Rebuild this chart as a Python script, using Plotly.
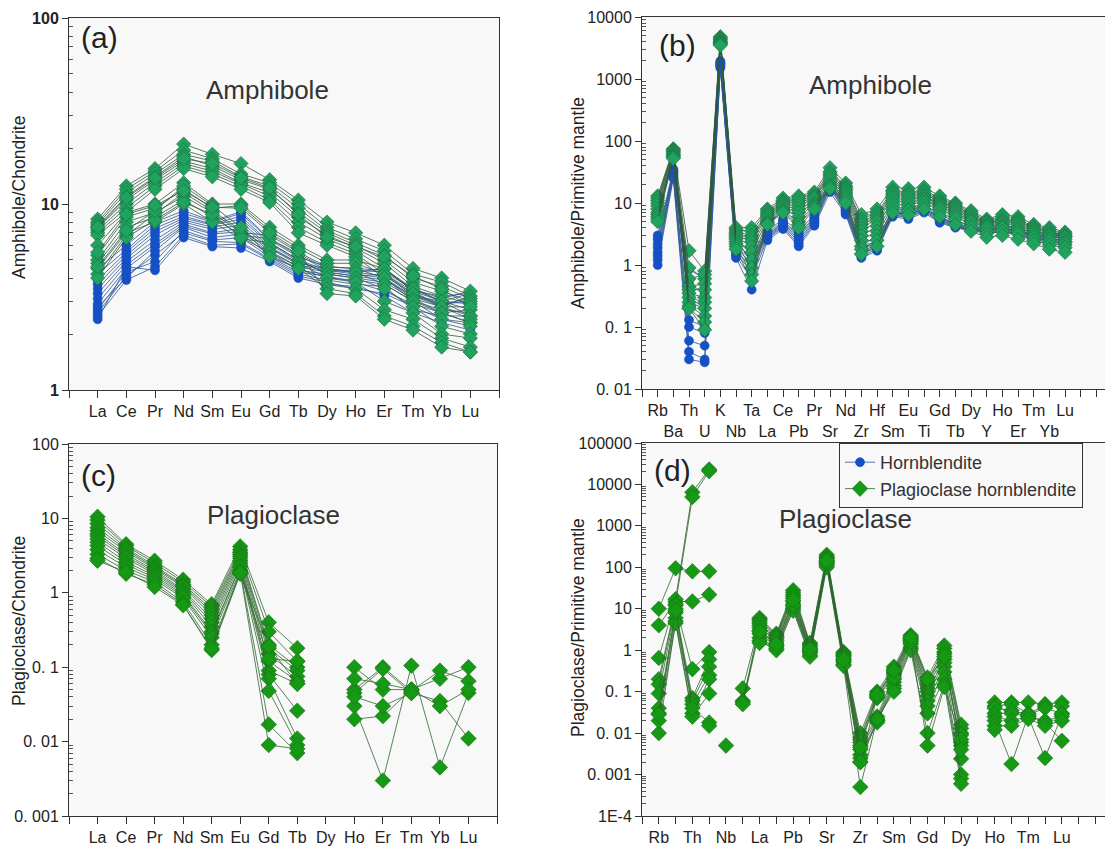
import plotly.graph_objects as go

# ---------------- categories ----------------
REE = ["La", "Ce", "Pr", "Nd", "Sm", "Eu", "Gd", "Tb", "Dy", "Ho", "Er", "Tm", "Yb", "Lu"]
SPIDER_AMP = ["Rb", "Ba", "Th", "U", "K", "Nb", "Ta", "La", "Ce", "Pb", "Pr", "Sr", "Nd", "Zr",
              "Hf", "Sm", "Eu", "Ti", "Gd", "Tb", "Dy", "Y", "Ho", "Er", "Tm", "Yb", "Lu"]
SPIDER_PL = ["Rb", "Ba", "Th", "U", "Nb", "Ta", "La", "Ce", "Pb", "Pr", "Sr", "Nd", "Zr",
             "Hf", "Sm", "Eu", "Gd", "Tb", "Dy", "Y", "Ho", "Er", "Tm", "Yb", "Lu"]
N = None

# ---------------- (a) amphibole / chondrite ----------------
a_hbl = [
    [2.4, 4.6, 4.4, 6.6, 5.9, 5.8, 4.9, 4.0, 3.7, 3.6, 3.2, 2.6, 2.3, 2.1],
    [2.5, 3.9, 4.6, 6.8, 6.0, 6.1, 5.0, 4.1, 3.8, 3.5, 3.3, 2.8, 2.4, 2.3],
    [2.6, 4.1, 5.3, 7.0, 6.3, 6.2, 5.1, 4.2, 3.9, 3.7, 3.6, 2.7, 2.5, 2.5],
    [2.7, 4.3, 4.9, 7.2, 6.4, 6.6, 5.2, 4.3, 4.1, 3.8, 3.4, 2.9, 2.6, 2.7],
    [2.8, 4.0, 5.6, 7.5, 6.6, 6.9, 5.3, 4.5, 4.0, 3.9, 3.7, 3.0, 2.7, 2.6],
    [2.9, 4.5, 5.9, 7.6, 6.9, 7.1, 5.5, 4.4, 4.2, 4.0, 3.8, 3.1, 2.8, 2.8],
    [3.1, 4.7, 6.1, 7.8, 7.0, 7.4, 5.6, 4.6, 4.3, 4.1, 3.9, 3.2, 2.9, 3.0],
    [3.3, 4.9, 6.4, 8.0, 7.3, 7.7, 5.8, 4.7, 4.4, 4.2, 4.0, 3.2, 3.0, 2.9],
    [3.5, 5.1, 6.8, 8.2, 7.5, 8.0, 5.9, 4.8, 4.5, 4.3, 4.1, 3.3, 2.9, 3.1],
    [3.7, 5.3, 7.1, 8.4, 7.7, 8.3, 6.1, 4.9, 4.3, 4.1, 4.2, 3.4, 2.8, 3.2],
    [3.9, 5.5, 7.4, 8.6, 7.8, 8.6, 6.2, 5.0, 4.4, 4.4, 4.3, 3.5, 3.0, 3.3],
    [4.2, 5.7, 7.7, 8.9, 8.0, 8.9, 6.4, 5.2, 4.6, 4.5, 4.4, 3.5, 3.1, 3.4],
    [4.5, 6.0, 8.0, 9.2, 8.1, 9.1, 6.5, 5.4, 4.5, 4.3, 4.5, 3.4, 3.2, 3.3],
]
a_plhbl = [
    [8.3, 12.5, 15.5, 21.0, 18.5, 16.5, 13.5, 10.5, 8.0, 7.0, 6.0, 4.5, 4.0, 3.4],
    [8.0, 12.0, 15.0, 19.5, 17.5, 14.5, 13.0, 10.0, 7.5, 6.5, 5.6, 4.2, 3.8, 3.2],
    [7.8, 11.5, 14.5, 18.5, 17.0, 14.0, 12.5, 9.5, 7.2, 6.2, 5.3, 4.0, 3.6, 3.1],
    [7.6, 11.0, 14.0, 18.0, 16.0, 13.5, 12.0, 9.0, 7.0, 6.0, 5.0, 3.8, 3.4, 3.0],
    [7.4, 10.5, 13.5, 17.0, 15.5, 13.0, 11.5, 8.5, 6.8, 5.8, 4.8, 3.6, 3.2, 2.9],
    [7.2, 10.0, 13.0, 16.5, 15.0, 12.8, 11.0, 8.0, 6.5, 5.6, 4.5, 3.4, 3.0, 2.7],
    [7.0, 9.5, 12.5, 16.0, 14.5, 12.5, 10.5, 7.5, 6.2, 5.4, 4.2, 3.2, 2.8, 2.5],
    [6.8, 9.0, 12.0, 15.5, 14.0, 12.0, 10.2, 7.0, 6.0, 5.2, 4.0, 3.0, 2.6, 2.3],
    [7.5, 10.8, 13.8, 17.5, 16.5, 13.8, 12.2, 8.8, 6.6, 5.9, 5.2, 4.1, 3.5, 2.8],
    [6.0, 9.0, 10.0, 13.0, 10.0, 10.0, 7.5, 6.0, 5.0, 5.0, 4.5, 3.5, 3.0, 2.5],
    [5.3, 8.5, 9.5, 12.0, 9.5, 9.8, 7.2, 5.8, 4.8, 4.8, 4.2, 3.3, 2.8, 2.4],
    [5.0, 8.0, 9.0, 11.0, 9.0, 7.0, 6.8, 5.5, 4.6, 4.5, 4.0, 3.1, 2.6, 2.3],
    [4.8, 7.5, 8.5, 10.5, 8.5, 6.8, 6.5, 5.3, 4.4, 4.3, 3.7, 3.0, 2.4, 2.2],
    [4.5, 7.0, 8.0, 10.0, 8.0, 6.5, 6.2, 5.0, 4.2, 4.0, 3.5, 2.8, 2.2, 2.0],
    [4.2, 6.8, 8.8, 11.5, 9.2, 7.2, 5.8, 4.8, 4.0, 3.8, 3.0, 2.6, 2.0, 1.9],
    [4.0, 6.6, 8.2, 10.2, 8.8, 6.6, 5.5, 4.6, 3.7, 3.5, 2.7, 2.4, 1.9, 1.7],
    [4.6, 7.2, 9.2, 12.5, 9.8, 7.5, 5.2, 4.5, 3.5, 3.3, 2.5, 2.2, 1.8, 1.6],
    [5.5, 8.8, 9.8, 11.8, 9.6, 9.5, 7.0, 5.6, 3.3, 3.2, 2.4, 2.1, 1.7, 1.6],
]

# ---------------- (b) amphibole / primitive mantle ----------------
b_hbl = [
    [1.0, 25, 0.03, 0.027, 1500, 1.3, 0.4, 2.5, 3.8, 2.0, 4.3, 15, 6.5, 1.3, 1.7, 6.0, 5.5, 7.0, 4.8, 4.0, 3.5, 3.3, 3.4, 3.0, 2.5, 2.2, 2.1],
    [1.2, 27, 0.04, 0.03, 1600, 1.4, 0.6, 2.7, 4.0, 2.2, 4.6, 17, 7.0, 1.4, 1.8, 6.3, 5.8, 7.4, 5.0, 4.1, 3.6, 3.4, 3.5, 3.1, 2.6, 2.3, 2.3],
    [1.4, 28, 0.06, 0.05, 1650, 1.5, 0.8, 2.8, 4.2, 2.4, 4.8, 18, 7.3, 1.5, 1.9, 6.5, 6.0, 7.6, 5.2, 4.2, 3.7, 3.5, 3.6, 3.2, 2.7, 2.4, 2.5],
    [1.6, 30, 0.10, 0.08, 1700, 1.6, 1.0, 2.9, 4.4, 2.6, 5.0, 19, 7.6, 1.6, 2.0, 6.8, 6.3, 7.8, 5.4, 4.3, 3.8, 3.6, 3.7, 3.3, 2.8, 2.5, 2.7],
    [1.9, 31, 0.13, 0.10, 1750, 1.8, 1.1, 3.0, 4.6, 2.8, 5.3, 20, 7.9, 1.7, 2.1, 7.0, 6.6, 8.0, 5.6, 4.4, 3.9, 3.7, 3.8, 3.4, 2.9, 2.6, 2.9],
    [2.2, 32, 0.30, 0.20, 1800, 2.0, 1.2, 3.1, 4.8, 3.0, 5.6, 21, 8.2, 1.9, 2.2, 7.2, 6.9, 8.3, 5.8, 4.5, 4.0, 3.7, 3.9, 3.5, 3.0, 2.7, 3.0],
    [2.6, 33, 0.50, 0.35, 1850, 2.2, 1.3, 3.3, 5.0, 3.2, 5.9, 22, 8.5, 2.1, 2.3, 7.5, 7.2, 8.6, 6.0, 4.6, 4.1, 3.8, 4.0, 3.6, 3.1, 2.8, 3.2],
    [3.0, 35, 0.85, 0.60, 1950, 2.5, 1.5, 3.5, 5.5, 3.5, 6.5, 25, 9.0, 2.5, 2.5, 8.0, 8.0, 9.0, 6.5, 5.0, 4.5, 4.0, 4.2, 4.0, 3.3, 3.0, 3.4],
]
b_plhbl = [
    [13, 75, 1.7, 0.8, 4800, 4.0, 4.0, 8.0, 12.0, 13.0, 15.0, 37, 21, 6.5, 8.0, 18, 17, 18, 13, 10, 7.5, 5.5, 6.5, 6.0, 4.5, 4.0, 3.4],
    [12, 72, 0.9, 0.6, 4600, 3.7, 3.5, 7.5, 11.0, 12.0, 14.0, 32, 19, 5.5, 7.0, 16, 15, 16, 12, 9.5, 7.0, 5.2, 6.0, 5.5, 4.2, 3.7, 3.2],
    [11, 70, 0.6, 0.7, 4400, 3.4, 3.0, 7.0, 10.5, 11.0, 13.0, 30, 18, 5.0, 6.5, 15, 14, 15, 11, 9.0, 6.5, 5.0, 5.5, 5.2, 4.0, 3.5, 3.0],
    [10, 68, 0.45, 0.5, 4300, 3.2, 2.7, 6.6, 10.0, 10.0, 12.5, 28, 17, 4.5, 6.0, 14, 13, 14, 10.5, 8.5, 6.2, 4.8, 5.2, 5.0, 3.8, 3.3, 2.9],
    [9, 65, 0.4, 0.4, 4100, 3.0, 2.4, 6.2, 9.5, 9.0, 12.0, 26, 16, 4.0, 5.5, 13, 12, 13, 10, 8.0, 5.8, 4.6, 5.0, 4.7, 3.6, 3.1, 2.8],
    [8, 62, 0.35, 0.3, 4000, 2.8, 2.0, 5.8, 9.0, 8.0, 11.0, 24, 15, 3.5, 5.0, 12, 11, 12.5, 9.5, 7.5, 5.5, 4.4, 4.7, 4.4, 3.4, 3.0, 2.6],
    [7, 60, 0.3, 0.25, 3900, 2.6, 1.6, 5.4, 8.5, 7.0, 10.0, 22, 14, 3.0, 4.2, 11, 10, 11.5, 9.0, 7.0, 5.2, 4.2, 4.4, 4.0, 3.2, 2.8, 2.4],
    [6.5, 58, 0.25, 0.2, 3800, 2.4, 1.2, 5.0, 8.0, 6.0, 9.5, 20, 13, 2.5, 3.5, 10, 9.0, 11, 8.5, 6.5, 5.0, 4.0, 4.2, 3.8, 3.0, 2.6, 2.3],
    [6.0, 56, 0.22, 0.15, 3700, 2.2, 0.9, 4.8, 7.5, 5.0, 9.0, 19, 12, 2.0, 3.0, 9.0, 8.0, 10, 8.0, 6.0, 4.5, 3.6, 4.0, 3.5, 2.8, 2.4, 2.1],
    [5.5, 54, 0.2, 0.12, 3600, 2.0, 0.7, 4.6, 7.2, 4.5, 8.5, 18, 11, 1.8, 2.5, 8.0, 7.5, 9.0, 7.0, 5.5, 4.0, 3.2, 3.5, 3.2, 2.5, 2.1, 1.9],
    [5.0, 52, 0.2, 0.09, 3500, 1.8, 0.55, 4.5, 7.0, 4.0, 8.0, 17, 10, 1.5, 2.0, 7.0, 6.5, 8.0, 6.0, 4.5, 3.5, 2.8, 3.0, 2.6, 2.2, 1.8, 1.6],
]

# ---------------- (c) plagioclase / chondrite ----------------
c_plhbl = [
    [10.5, 4.5, 2.7, 1.5, 0.70, 4.2, 0.40, 0.18, N, 0.10, 0.05, 0.05, 0.07, 0.10],
    [9.5, 4.3, 2.5, 1.4, 0.65, 3.8, 0.30, 0.12, N, 0.05, 0.10, 0.048, 0.09, 0.065],
    [8.5, 4.0, 2.3, 1.3, 0.60, 3.5, 0.20, 0.10, N, 0.045, 0.095, 0.045, 0.035, 0.011],
    [7.5, 3.8, 2.2, 1.25, 0.55, 3.3, 0.18, 0.09, N, 0.03, 0.003, 0.105, 0.0045, 0.045],
    [6.8, 3.6, 2.1, 1.2, 0.50, 3.1, 0.15, 0.075, N, 0.02, 0.022, 0.05, 0.03, 0.05],
    [6.2, 3.3, 2.0, 1.1, 0.45, 2.9, 0.12, 0.065, N, 0.07, 0.06, 0.05, N, N],
    [5.8, 3.1, 1.9, 1.05, 0.40, 2.7, 0.09, 0.06, N, 0.04, 0.03, 0.045, N, N],
    [5.3, 2.9, 1.8, 1.0, 0.35, 2.5, 0.08, 0.026, N, N, N, N, N, N],
    [4.8, 2.6, 1.7, 0.95, 0.30, 2.3, 0.07, 0.011, N, N, N, N, N, N],
    [4.3, 2.4, 1.6, 0.90, 0.28, 2.2, 0.048, 0.009, N, N, N, N, N, N],
    [3.8, 2.2, 1.5, 0.85, 0.25, 2.0, 0.017, 0.007, N, N, N, N, N, N],
    [3.3, 2.0, 1.4, 0.75, 0.20, 1.9, 0.009, 0.008, N, N, N, N, N, N],
    [2.9, 1.8, 1.3, 0.70, 0.17, 1.8, 0.13, 0.12, N, N, N, N, N, N],
    [2.7, 1.9, 1.2, 0.68, 0.18, 1.85, 0.19, 0.06, N, N, N, N, N, N],
]

# ---------------- (d) plagioclase / primitive mantle ----------------
d_plhbl = [
    [10, 95, 80, 80, N, N, 6.0, 2.5, 28, 1.5, 200, 0.90, 0.010, 0.10, 0.40, 2.3, 0.22, 1.3, 0.016, N, 0.055, 0.055, 0.055, 0.05, 0.055],
    [4.0, 15, 15, 22, N, N, 5.5, 2.3, 25, 1.4, 180, 0.85, 0.008, 0.09, 0.35, 2.1, 0.18, 1.1, 0.013, N, 0.045, 0.05, 0.03, 0.045, 0.045],
    [0.65, 17, 6500, 23000, N, N, 5.0, 2.2, 22, 1.3, 170, 0.80, 0.007, 0.08, 0.30, 1.9, 0.15, 0.9, 0.010, N, 0.04, 0.035, 0.028, 0.04, 0.03],
    [0.2, 13, 5000, 21000, N, 0.12, 4.5, 2.0, 20, 1.2, 160, 0.75, 0.006, 0.07, 0.28, 1.8, 0.12, 0.8, 0.009, N, 0.03, 0.03, 0.025, 0.02, 0.025],
    [0.15, 12, 0.35, 0.9, N, 0.06, 4.0, 1.9, 18, 1.1, 150, 0.70, 0.005, 0.025, 0.25, 1.7, 0.10, 0.6, 0.006, N, 0.025, 0.02, 0.025, 0.0025, 0.028],
    [0.09, 10, 0.07, 0.6, N, 0.055, 3.5, 1.7, 15, 1.0, 140, 0.60, 0.004, 0.022, 0.20, 1.5, 0.08, 0.5, 0.005, N, 0.02, 0.0018, 0.027, 0.018, 0.0065],
    [0.04, 8, 0.06, 0.4, N, 0.05, 3.0, 1.5, 13, 0.95, 130, 0.55, 0.003, 0.02, 0.17, 1.4, 0.06, 0.4, 0.0024, N, 0.015, 0.015, 0.022, 0.015, 0.02],
    [0.03, 6, 0.05, 0.25, N, N, 2.5, 1.3, 11, 0.85, 120, 0.50, 0.0025, 0.018, 0.14, 1.2, 0.045, 0.3, 0.001, N, 0.012, N, N, N, N],
    [0.01, 5, 0.03, 0.2, N, N, 2.0, 1.1, 10, 0.75, 110, 0.45, 0.002, 0.02, 0.12, 1.1, 0.03, 0.2, 0.0008, N, N, N, N, N, N],
    [0.02, 4.5, 0.025, 0.09, N, N, 1.7, 1.0, 9, 0.70, 100, 0.42, 0.0005, 0.022, 0.10, 1.0, 0.010, 0.15, 0.0006, N, N, N, N, N, N],
    [0.028, 9, 0.04, 0.018, N, N, 1.5, 1.2, 12, 0.90, 125, 0.65, 0.002, 0.075, 0.22, 1.6, 0.005, 0.13, 0.007, N, N, N, N, N, N],
    [N, N, N, 0.015, N, N, 2.8, 1.4, 16, 1.05, 145, 0.58, 0.0045, 0.085, 0.32, 2.0, 0.2, 0.7, 0.004, N, N, N, N, N, N],
    [N, N, N, N, 0.005, N, N, N, N, N, N, N, N, N, N, N, N, N, N, N, N, N, N, N, N],
]

# ---------------- styling ----------------
FONT = "Arial, Liberation Sans, Helvetica, sans-serif"
BLUE_M, BLUE_L = "#1550c4", "#2c5796"
GA_M, GA_L, GA_E = "#1fa35f", "#30593f", "#1c6a3e"
GP_M, GP_L, GP_E = "#169a16", "#2f672f", "#137013"

fig = go.Figure()


def add_group(data, xa, ya, mcol, lcol, ecol, symbol, size, name=None, legend_first=False):
    for i, vals in enumerate(data):
        fig.add_trace(go.Scatter(
            x=list(range(1, len(vals) + 1)), y=vals, mode="lines+markers",
            xaxis=xa, yaxis=ya, connectgaps=False,
            line=dict(color=lcol, width=0.8),
            marker=dict(symbol=symbol, size=size, color=mcol, line=dict(color=ecol, width=0.6)),
            name=name or "", showlegend=(legend_first and i == 0), hoverinfo="skip"))


add_group(a_hbl, "x", "y", BLUE_M, BLUE_L, BLUE_M, "circle", 9, "Hornblendite", True)
add_group(a_plhbl, "x", "y", GA_M, GA_L, GA_E, "diamond", 11)
add_group(b_hbl, "x2", "y2", BLUE_M, BLUE_L, BLUE_M, "circle", 9)
add_group(b_plhbl, "x2", "y2", GA_M, GA_L, GA_E, "diamond", 11)
add_group(c_plhbl, "x3", "y3", GP_M, GP_L, GP_E, "diamond", 12)
add_group(d_plhbl, "x4", "y4", GP_M, GP_L, GP_E, "diamond", 12, "Plagioclase hornblendite", True)

W, H = 1105, 848


def px_x(v):
    return v / W


def px_y(v):
    return (H - v) / H


def minor_vals(lo, hi):
    out = []
    for e in range(lo, hi):
        for m in range(2, 10):
            out.append(m * 10.0 ** e)
    return out


def xaxis(domain, rng, labels, two_rows, size, anchor):
    n_end = int(rng[1])
    vals = list(range(0, n_end + 1))
    text = []
    for v in vals:
        if 1 <= v <= len(labels):
            lab = labels[v - 1]
            text.append(("<br>" + lab) if (two_rows and v % 2 == 0) else lab)
        else:
            text.append("")
    return dict(domain=domain, range=rng, anchor=anchor, showgrid=False, zeroline=False,
                tickmode="array", tickvals=vals, ticktext=text, ticks="outside", ticklen=7,
                tickwidth=1, tickcolor="#333", showline=True, linecolor="#333", linewidth=1,
                mirror=True, tickangle=0, automargin=False,
                tickfont=dict(family=FONT, size=size, color="#222"))


def yaxis(domain, lo, hi, texts, anchor, mirror, bold=False):
    vals = [10.0 ** e for e in range(lo, hi + 1)]
    return dict(domain=domain, type="log", range=[lo, hi], anchor=anchor, showgrid=False,
                zeroline=False, tickmode="array", tickvals=vals, ticktext=texts,
                ticks="outside", ticklen=6, tickwidth=1, tickcolor="#333", automargin=False,
                minor=dict(tickmode="array", tickvals=minor_vals(lo, hi), ticks="inside",
                           ticklen=4, tickcolor="#555", tickwidth=1),
                showline=True, linecolor="#333", linewidth=1, mirror=mirror,
                tickfont=dict(family=FONT, size=16, color="#222",
                              weight="bold" if bold else "normal"))


ax_a = [px_x(69), px_x(499)]
ax_b = [px_x(642), 1.0]

fig.update_layout(
    width=W, height=H, margin=dict(l=0, r=0, t=0, b=0, autoexpand=False),
    paper_bgcolor="#ffffff", plot_bgcolor="#f8f8f8",
    xaxis=xaxis(ax_a, [0, 15], REE, False, 16, "y"),
    yaxis=yaxis([px_y(390), px_y(18)], 0, 2, ["1", "10", "100"], "x", True, bold=True),
    xaxis2=xaxis(ax_b, [0, 29.55], SPIDER_AMP, True, 16, "y2"),
    yaxis2=yaxis([px_y(389), px_y(17)], -2, 4, ["0. 01", "0. 1", "1", "10", "100", "1000", "10000"], "x2", False),
    xaxis3=xaxis([px_x(69), px_x(497)], [0, 15], REE, False, 16, "y3"),
    yaxis3=yaxis([px_y(816), px_y(444)], -3, 2, ["0. 001", "0. 01", "0. 1", "1", "10", "100"], "x3", True),
    xaxis4=xaxis(ax_b, [0, 27.57], SPIDER_PL, True, 16, "y4"),
    yaxis4=yaxis([px_y(816), px_y(443)], -4, 5,
                 ["1E-4", "0. 001", "0. 01", "0. 1", "1", "10", "100", "1000", "10000", "100000"], "x4", False),
    legend=dict(x=px_x(839), y=px_y(443), xanchor="left", yanchor="top",
                bgcolor="#f8f8f8", bordercolor="#333", borderwidth=1,
                font=dict(family=FONT, size=18, color="#333"), tracegroupgap=0,
                itemwidth=30),
    showlegend=True,
)

ann = []


def label(x, y, text, size, angle=0, color="#222"):
    ann.append(dict(x=px_x(x), y=px_y(y), xref="paper", yref="paper", text=text, showarrow=False,
                    textangle=angle, xanchor="center", yanchor="middle",
                    font=dict(family=FONT, size=size, color=color)))


label(99, 38, "(a)", 30)
label(677, 45, "(b)", 30)
label(98, 475, "(c)", 30)
label(673, 470, "(d)", 30)
label(267, 90, "Amphibole", 26, color="#333")
label(870, 85, "Amphibole", 26, color="#333")
label(273, 515, "Plagioclase", 26, color="#333")
label(846, 519, "Plagioclase", 26, color="#333")
label(19, 198, "Amphibole/Chondrite", 17.5, angle=-90)
label(578, 203, "Amphibole/Primitive mantle", 17.5, angle=-90)
label(19, 621, "Plagioclase/Chondrite", 17.5, angle=-90)
label(578, 628, "Plagioclase/Primitive mantle", 17.5, angle=-90)
fig.update_layout(annotations=ann)

fig.write_html("out.html")
